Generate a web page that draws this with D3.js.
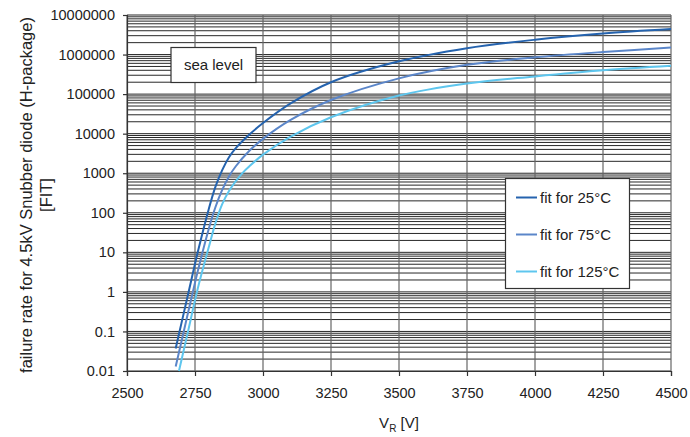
<!DOCTYPE html>
<html>
<head>
<meta charset="utf-8">
<script src="https://cdn.jsdelivr.net/npm/d3@7"></script>
<style>
  body { margin: 0; background: #fff; }
  text { font-family: "Liberation Sans", Arial, sans-serif; fill: #222; }
</style>
</head>
<body>
<div id="chart"></div>
<script>
// voltages [V] and failure rates [FIT]
const volts25 = [2679, 2700, 2725, 2760, 2800, 2825, 2850, 2875, 2900, 2950, 3000, 3100, 3250, 3500, 3750, 4000, 4250, 4500];
const rate25  = [0.037, 0.16, 0.9, 10, 120, 450, 1200, 2540, 4300, 9500, 18600, 57500, 200000, 676000, 1450000, 2370000, 3400000, 4400000];

const volts75 = [2679, 2700, 2725, 2760, 2800, 2825, 2850, 2875, 2900, 2950, 3000, 3100, 3250, 3500, 3750, 4000, 4250, 4500];
const rate75  = [0.013, 0.055, 0.31, 3.3, 38, 138, 380, 830, 1500, 3700, 7400, 22000, 71000, 250000, 550000, 850000, 1160000, 1500000];

const volts125 = [2691, 2725, 2760, 2800, 2825, 2850, 2875, 2900, 2925, 2950, 3000, 3100, 3250, 3500, 3750, 4000, 4250, 4500];
const rate125  = [0.01, 0.105, 1.2, 13, 54, 166, 355, 630, 1020, 1500, 2950, 8300, 26000, 92000, 186000, 280000, 400000, 520000];

const seriesNames = ["fit for 25°C", "fit for 75°C", "fit for 125°C"];
const seriesColors = ["#2563ae", "#5b86c9", "#5ec6ee"];

const xTicks = [2500, 2750, 3000, 3250, 3500, 3750, 4000, 4250, 4500];
const yTicks = [0.01, 0.1, 1, 10, 100, 1000, 10000, 100000, 1000000, 10000000];

const width = 690, height = 437,
      margin = ({top: 15, right: 19, bottom: 66, left: 127});

let svg = d3.select("#chart")
            .append("svg")
            .attr("width", width)
            .attr("height", height)
            .attr("viewBox", [0, 0, width, height]);

const x = d3.scaleLinear()
            .domain([2500, 4500])
            .range([margin.left, width - margin.right]);

const y = d3.scaleLog()
            .domain([0.01, 1e7])
            .range([height - margin.bottom, margin.top]);

// horizontal grid: every 1..9 step in each decade
svg.append("g")
    .selectAll("line")
    .data(y.ticks())
    .join("line")
    .attr("x1", margin.left)
    .attr("x2", width - margin.right)
    .attr("y1", d => y(d))
    .attr("y2", d => y(d))
    .attr("stroke", "#000")
    .attr("stroke-width", 0.85);

// vertical grid
svg.append("g")
    .selectAll("line")
    .data(xTicks)
    .join("line")
    .attr("x1", d => x(d))
    .attr("x2", d => x(d))
    .attr("y1", margin.top)
    .attr("y2", height - margin.bottom)
    .attr("stroke", "#666")
    .attr("stroke-width", 1.2);

// axes
const yAxis = g => g
    .attr("transform", `translate(${margin.left}, 0)`)
    .call(d3.axisLeft(y).tickValues(yTicks).tickSize(4).tickPadding(8)
        .tickFormat(d => d >= 1 ? d3.format(".0f")(d) : String(+d.toPrecision(1))));

const xAxis = g => g
    .attr("transform", `translate(0, ${height - margin.bottom})`)
    .call(d3.axisBottom(x).tickValues(xTicks).tickSize(5).tickPadding(12)
        .tickFormat(d3.format("d")));

svg.append("g").call(yAxis);
svg.append("g").call(xAxis);

svg.selectAll(".tick text").style("font-size", "14.5px").attr("fill", "#222");
svg.selectAll(".domain, .tick line").attr("stroke", "#333").attr("stroke-width", 1.2);

// curves
const series = [
    {v: volts25, r: rate25},
    {v: volts75, r: rate75},
    {v: volts125, r: rate125}
];

const line = d3.line()
    .x(d => x(d[0]))
    .y(d => y(d[1]))
    .curve(d3.curveCatmullRom.alpha(0.5));

svg.append("g")
    .selectAll("path")
    .data(series)
    .join("path")
    .attr("d", s => line(d3.zip(s.v, s.r)))
    .attr("fill", "none")
    .attr("stroke", (s, i) => seriesColors[i])
    .attr("stroke-width", 2);

// sea level box
svg.append("rect")
    .attr("x", 171).attr("y", 47.5)
    .attr("width", 85).attr("height", 35)
    .attr("fill", "#fff").attr("stroke", "#333").attr("stroke-width", 1.2);
svg.append("text")
    .attr("x", 213.5).attr("y", 70)
    .attr("text-anchor", "middle")
    .style("font-size", "15px")
    .text("sea level");

// legend
let legend = svg.append("g");
legend.append("rect")
    .attr("x", 505.5).attr("y", 178.5)
    .attr("width", 124).attr("height", 110)
    .attr("fill", "#fff").attr("stroke", "#333").attr("stroke-width", 1.2);

let item = legend.selectAll("g")
    .data(seriesNames)
    .join("g")
    .attr("transform", (d, i) => `translate(0, ${197.5 + i * 37})`);

item.append("line")
    .attr("x1", 516).attr("x2", 537)
    .attr("stroke", (d, i) => seriesColors[i])
    .attr("stroke-width", 2);

item.append("text")
    .attr("x", 540).attr("y", 5)
    .style("font-size", "15px")
    .text(d => d);

// axis titles
svg.append("text")
    .attr("transform", `translate(32, ${195}) rotate(-90)`)
    .attr("text-anchor", "middle")
    .style("font-size", "16.5px")
    .text("failure rate for 4.5kV Snubber diode (H-package)");

svg.append("text")
    .attr("transform", `translate(52, ${195}) rotate(-90)`)
    .attr("text-anchor", "middle")
    .style("font-size", "16.5px")
    .text("[FIT]");

let xTitle = svg.append("text")
    .attr("x", 399).attr("y", 428)
    .attr("text-anchor", "middle")
    .style("font-size", "15px");
xTitle.append("tspan").text("V");
xTitle.append("tspan").attr("dy", 4).style("font-size", "10px").text("R");
xTitle.append("tspan").attr("dy", -4).text(" [V]");
</script>
</body>
</html>
